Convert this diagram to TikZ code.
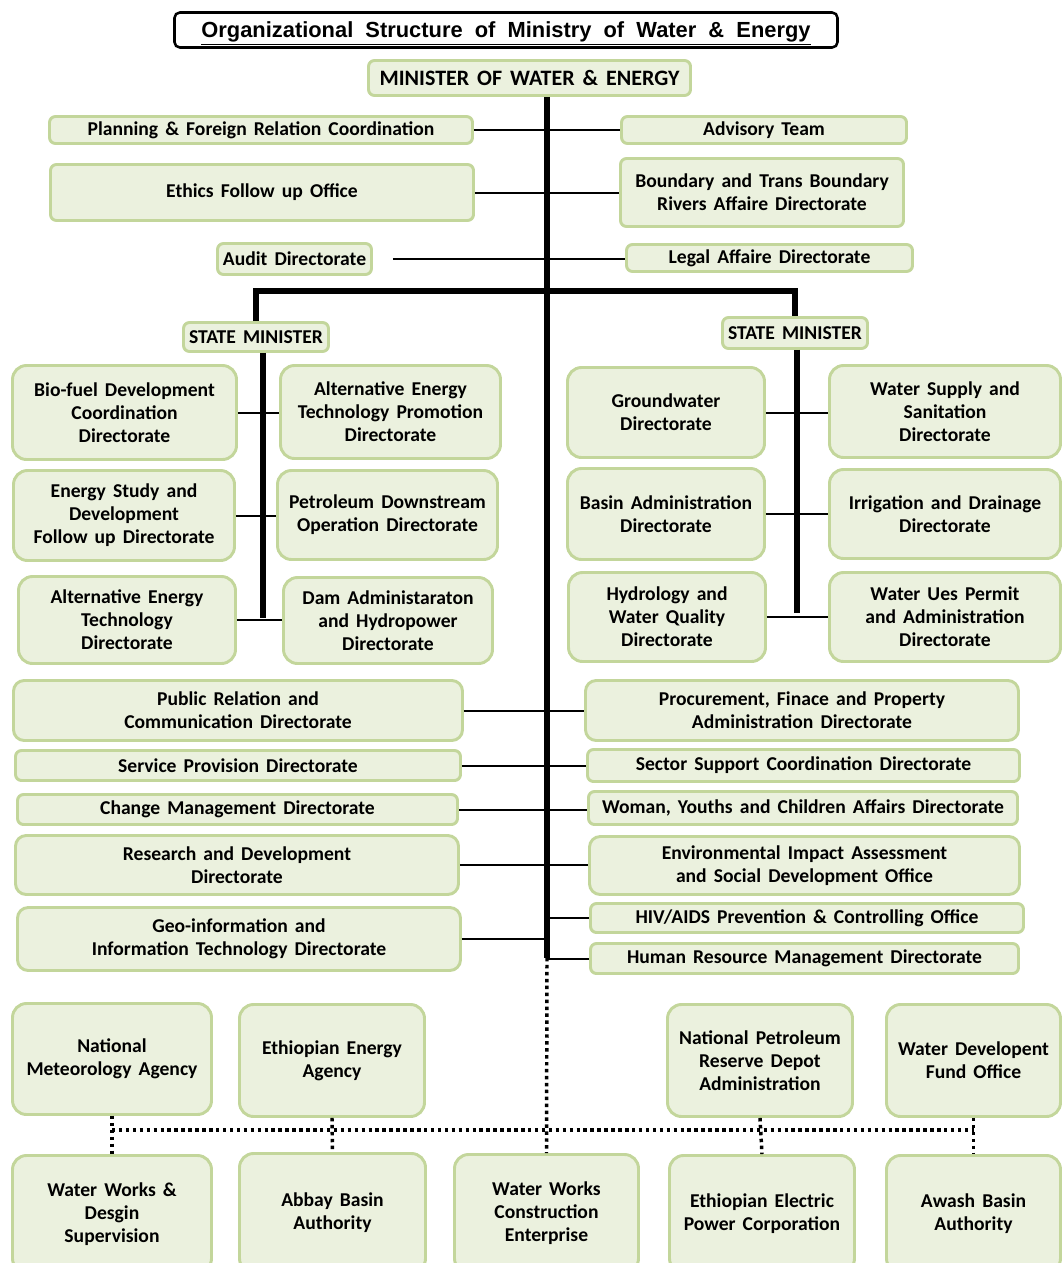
\documentclass[tikz,border=0pt]{standalone}
\usepackage{fontspec}
\setmainfont{Carlito}[WordSpace=1.6]
\newfontfamily\titlefont{Liberation Sans}[WordSpace=2.0]
\usepackage{xcolor}
\definecolor{boxfill}{HTML}{EBF1DE}
\definecolor{boxline}{HTML}{C3D69B}

\begin{document}
\begin{tikzpicture}[x=0.75pt,y=-0.75pt]
\tikzset{
	sz/.style 2 args = {minimum width={(#1-3)*0.75pt}, minimum height={(#2-3)*0.75pt}},
	unit/.style = {draw=boxline, fill=boxfill, line width=2.2pt, rounded corners=4.5pt, align=center, inner sep=0pt, font=\bfseries\fontsize{14.7}{17.25}\selectfont},
	bigunit/.style = {unit, rounded corners=10.5pt},
	titlebox/.style = {draw=black, fill=white, line width=1.9pt, rounded corners=4pt, inner sep=0pt, text depth=0pt, font=\titlefont\bfseries\fontsize{16.4}{18}\selectfont},
	link/.style = {line width=1.5pt},
	trunk/.style = {line width=3.8pt},
	dots/.style = {line width=2.6pt, dash pattern=on 2.6pt off 2.6pt}
}
\useasboundingbox (0,0) rectangle (1063,1263);

% top
\node[titlebox, sz={666}{38}] (title) at (506,30) {\underline{Organizational Structure of Ministry of Water \& Energy}};
\node[unit, sz={325}{38}, font=\bfseries\fontsize{16.5}{18}\selectfont] (minister) at (529.5,78) {MINISTER OF WATER \& ENERGY};

% staff units
\node[unit, sz={426}{30}] (plan) at (261,130) {Planning \& Foreign Relation Coordination};
\node[unit, sz={288}{30}] (advisory) at (764,130) {Advisory Team};
\node[unit, sz={426}{59}] (ethics) at (262,192.5) {Ethics Follow up Office};
\node[unit, sz={286}{71}] (boundary) at (762,192.5) {Boundary and Trans Boundary\\Rivers Affaire Directorate};
\node[unit, sz={157}{34}] (audit) at (294.5,259) {Audit Directorate};
\node[unit, sz={289}{30}] (legal) at (769.5,258) {Legal Affaire Directorate};

% state ministers
\node[unit, sz={148}{32}] (smL) at (256,337) {STATE MINISTER};
\node[unit, sz={148}{34}] (smR) at (795,333) {STATE MINISTER};

% energy wing
\node[bigunit, sz={227}{97}] (biofuel) at (124.5,412.5) {Bio-fuel Development\\Coordination\\Directorate};
\node[bigunit, sz={223}{96}] (aetp) at (390.5,412) {Alternative Energy\\Technology Promotion\\Directorate};
\node[bigunit, sz={224}{93}] (study) at (124,515.5) {Energy Study and\\Development\\Follow up Directorate};
\node[bigunit, sz={223}{92}] (petrol) at (387.5,515) {Petroleum Downstream\\Operation Directorate};
\node[bigunit, sz={220}{90}] (aet) at (127,620) {Alternative Energy\\Technology\\Directorate};
\node[bigunit, sz={212}{89}] (dam) at (388,620.5) {Dam Administaraton\\and Hydropower\\Directorate};

% water wing
\node[bigunit, sz={200}{93}] (ground) at (666,412.5) {Groundwater\\Directorate};
\node[bigunit, sz={234}{95}] (supply) at (945,411.5) {Water Supply and\\Sanitation\\Directorate};
\node[bigunit, sz={200}{94}] (basin) at (666,514) {Basin Administration\\Directorate};
\node[bigunit, sz={234}{92}] (irrig) at (945,514) {Irrigation and Drainage\\Directorate};
\node[bigunit, sz={200}{92}] (hydro) at (667,617) {Hydrology and\\Water Quality\\Directorate};
\node[bigunit, sz={234}{92}] (permit) at (945,617) {Water Ues Permit\\and Administration\\Directorate};

% support directorates
\node[unit, sz={452}{63}, rounded corners=8pt] (public) at (238,710.5) {Public Relation and\\Communication Directorate};
\node[unit, sz={436}{63}, rounded corners=8pt] (procure) at (802,710.5) {Procurement, Finace and Property\\Administration Directorate};
\node[unit, sz={448}{33}] (service) at (238,765.5) {Service Provision Directorate};
\node[unit, sz={435}{35}] (sector) at (803.5,765.5) {Sector Support Coordination Directorate};
\node[unit, sz={443}{33}] (change) at (237.5,809.5) {Change Management Directorate};
\node[unit, sz={432}{36}] (woman) at (803,808) {Woman, Youths and Children Affairs Directorate};
\node[unit, sz={446}{62}, rounded corners=8pt] (research) at (237,865) {Research and Development\\Directorate};
\node[unit, sz={433}{61}, rounded corners=8pt] (eia) at (804.5,865.5) {Environmental Impact Assessment\\and Social Development Office};
\node[unit, sz={446}{66}, rounded corners=8pt] (geo) at (239,939) {Geo-information and\\Information Technology Directorate};
\node[unit, sz={436}{32}] (hiv) at (807,918) {HIV/AIDS Prevention \& Controlling Office};
\node[unit, sz={431}{33}] (hr) at (804.5,958.5) {Human Resource Management Directorate};

% agencies
\node[bigunit, sz={202}{114}] (nma) at (112,1059) {National\\Meteorology Agency};
\node[bigunit, sz={188}{115}] (eea) at (332,1060.5) {Ethiopian Energy\\Agency};
\node[bigunit, sz={188}{115}] (nprd) at (760,1060.5) {National Petroleum\\Reserve Depot\\Administration};
\node[bigunit, sz={177}{115}] (wdf) at (973.5,1060.5) {Water Developent\\Fund Office};
\node[bigunit, sz={202}{120}] (wwds) at (112,1214) {Water Works \&\\Desgin\\Supervision};
\node[bigunit, sz={189}{122}] (abbay) at (332.5,1213) {Abbay Basin\\Authority};
\node[bigunit, sz={187}{121}] (wwce) at (546.5,1213.5) {Water Works\\Construction\\Enterprise};
\node[bigunit, sz={188}{120}] (eepc) at (762,1214) {Ethiopian Electric\\Power Corporation};
\node[bigunit, sz={177}{120}] (awash) at (973.5,1214) {Awash Basin\\Authority};

% lines
\coordinate (send) at (547,958);
\coordinate (bar) at (547,291);
\coordinate (lend) at (263,618);
\coordinate (rend) at (797,613);
\coordinate (dline) at (547,1130);

\draw[trunk] (minister.south -| send) -- (send);
\draw[trunk] (smL.north) |- (bar) -| (smR.north);
\draw[trunk] (smL.south -| lend) -- (lend);
\draw[trunk] (smR.south -| rend) -- (rend);

\draw[link] (plan.east) -- (advisory.west |- plan.east);
\draw[link] (ethics.east) -- (boundary.west |- ethics.east);
\draw[link] ([xshift=15]audit.east) -- (legal.west |- audit.east);

\draw[link] (biofuel.east) -- (aetp.west |- biofuel.east);
\draw[link] (study.east) -- (petrol.west |- study.east);
\draw[link] (aet.east) -- (dam.west |- aet.east);
\draw[link] (ground.east) -- (supply.west |- ground.east);
\draw[link] (basin.east) -- (irrig.west |- basin.east);
\draw[link] (hydro.east) -- (permit.west |- hydro.east);

\draw[link] (public.east) -- (procure.west |- public.east);
\draw[link] (service.east) -- (sector.west |- service.east);
\draw[link] (change.east) -- (woman.west |- change.east);
\draw[link] (research.east) -- (eia.west |- research.east);
\draw[link] (geo.east) -- (send |- geo.east);
\draw[link] (send |- hiv.west) -- (hiv.west);
\draw[link] (send |- hr.west) -- (hr.west);

\draw[dots] (send) -- (wwce.north);
\draw[dots] (nma.south |- dline) -- (wdf.south |- dline);
\draw[dots] (nma.south) -- (wwds.north);
\draw[dots] (eea.south) -- (abbay.north);
\draw[dots] (nprd.south) -- (eepc.north);
\draw[dots] (wdf.south) -- (awash.north);

\end{tikzpicture}
\end{document}
